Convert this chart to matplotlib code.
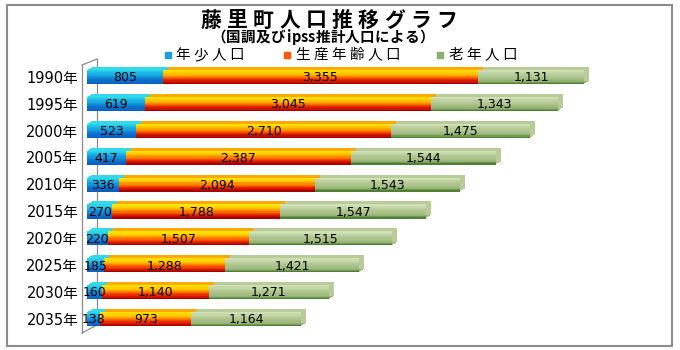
import numpy as np
import matplotlib
matplotlib.use("Agg")
import matplotlib.pyplot as plt
from matplotlib.colors import LinearSegmentedColormap
from matplotlib.patches import Rectangle
from matplotlib.lines import Line2D
from matplotlib.transforms import ScaledTranslation

# datos (personas)
years = ["1990年", "1995年", "2000年", "2005年", "2010年",
         "2015年", "2020年", "2025年", "2030年", "2035年"]
young = [805, 619, 523, 417, 336, 270, 220, 185, 160, 138]
working = [3355, 3045, 2710, 2387, 2094, 1788, 1507, 1288, 1140, 973]
old = [1131, 1343, 1475, 1544, 1543, 1547, 1515, 1421, 1271, 1164]
series_names = ["年少人口", "生産年齢人口", "老年人口"]

W, H = 680, 350
JP = ["Noto Sans CJK JP", "DejaVu Sans"]
NUM = ["DejaVu Sans", "Noto Sans CJK JP"]

grads = [
    ["#26d6ea", "#1aa8e2", "#0c78d2", "#0a60c0"],
    ["#ffe400", "#ffc400", "#ff7a00", "#e82400", "#a80000"],
    ["#d2e0b6", "#c2d4a4", "#b2c892", "#a8c088", "#9ab67a", "#4e8232"],
]
depth_cols = ["#34d8ea", "#ffa800", "#b8cc9a"]
legend_cols = ["#1a9ee0", "#ff5a00", "#8cae70"]

fig = plt.figure(figsize=(W / 100, H / 100), dpi=100)

ax_left = 87 / W
ax_w = 6000 * 0.094 / W
ax = fig.add_axes([ax_left, 17.5 / H, ax_w, 269 / H])
ax.set_xlim(0, 6000)
ax.set_ylim(9.5, -0.5)
ax.axis("off")

pos = np.arange(len(years))
h = 0.52
n_strip = 12
data = [np.array(young), np.array(working), np.array(old)]
lefts = [np.zeros(len(years)), np.array(young), np.array(young) + np.array(working)]

# extrusion (3D look)
for s in range(3):
    for d in range(1, 6):
        tr = ax.transData + ScaledTranslation(d / 100, d * 0.6 / 100, fig.dpi_scale_trans)
        col = depth_cols[s]
        if s == 2 and d in (2, 4):
            col = "#98b47a"
        ax.barh(pos, data[s], left=lefts[s], height=h, color=col,
                transform=tr, zorder=1 + d * 0.01)

# front faces with vertical gradient
for s in range(3):
    cmap = LinearSegmentedColormap.from_list("g%d" % s, grads[s])
    for k in range(n_strip):
        y0 = pos - h / 2 + k * h / n_strip
        ax.barh(y0, data[s], left=lefts[s], height=h / n_strip * 1.05,
                align="edge", color=cmap(k / (n_strip - 1)), zorder=3)

# values
for s in range(3):
    for i in range(len(years)):
        ax.text(lefts[s][i] + data[s][i] / 2, pos[i] + 0.03, f"{data[s][i]:,}",
                ha="center", va="center", fontsize=9, family=NUM, zorder=5)

# year labels
for i, lab in enumerate(years):
    ax.text(-0.0155, pos[i] + 0.05, lab, transform=ax.get_yaxis_transform(),
            ha="right", va="center", fontsize=10.5, family=NUM)


def px(x, y):
    return x / W, 1 - y / H


# back wall lines
for xs, ys in [((82, 82), (65, 333)), ((97, 97), (59, 325)),
               ((82, 97), (65, 59)), ((82, 97), (333, 325))]:
    p0 = px(xs[0], ys[0])
    p1 = px(xs[1], ys[1])
    fig.add_artist(Line2D([p0[0], p1[0]], [p0[1], p1[1]], color="#8a8a8a",
                          lw=0.9, transform=fig.transFigure, zorder=0))

# outer border
fig.add_artist(Rectangle(px(7, 346), 665 / W, 341 / H, fill=False,
                         edgecolor="#8c8c8c", lw=1.5, transform=fig.transFigure))


def spaced(x0, y, s, pitch, half=None, **kw):
    # caracteres uno por uno, con espaciado; x0 = borde izquierdo
    x = x0
    for ch in s:
        step = half if (half and ord(ch) < 128) else pitch
        xx, yy = px(x + step / 2, y)
        fig.text(xx, yy, ch, ha="center", va="center", **kw)
        x += step


spaced(198, 20, "藤里町人口推移グラフ", 26.2, fontsize=15, fontweight="bold", family=JP)
spaced(211, 37, "（国調及びipss推計人口による）", 14.8, half=7.6,
       fontsize=10.5, fontweight="bold", family=JP)

# legend
for mx, tx, name, col in zip([168, 287, 440], [174, 294, 447], series_names, legend_cols):
    fig.add_artist(Rectangle(px(mx - 3, 58), 6 / W, 6 / H, color=col,
                             transform=fig.transFigure))
    spaced(tx, 55, name, 17.9, fontsize=10.5, family=JP)

fig.savefig("out.png", dpi=100)
